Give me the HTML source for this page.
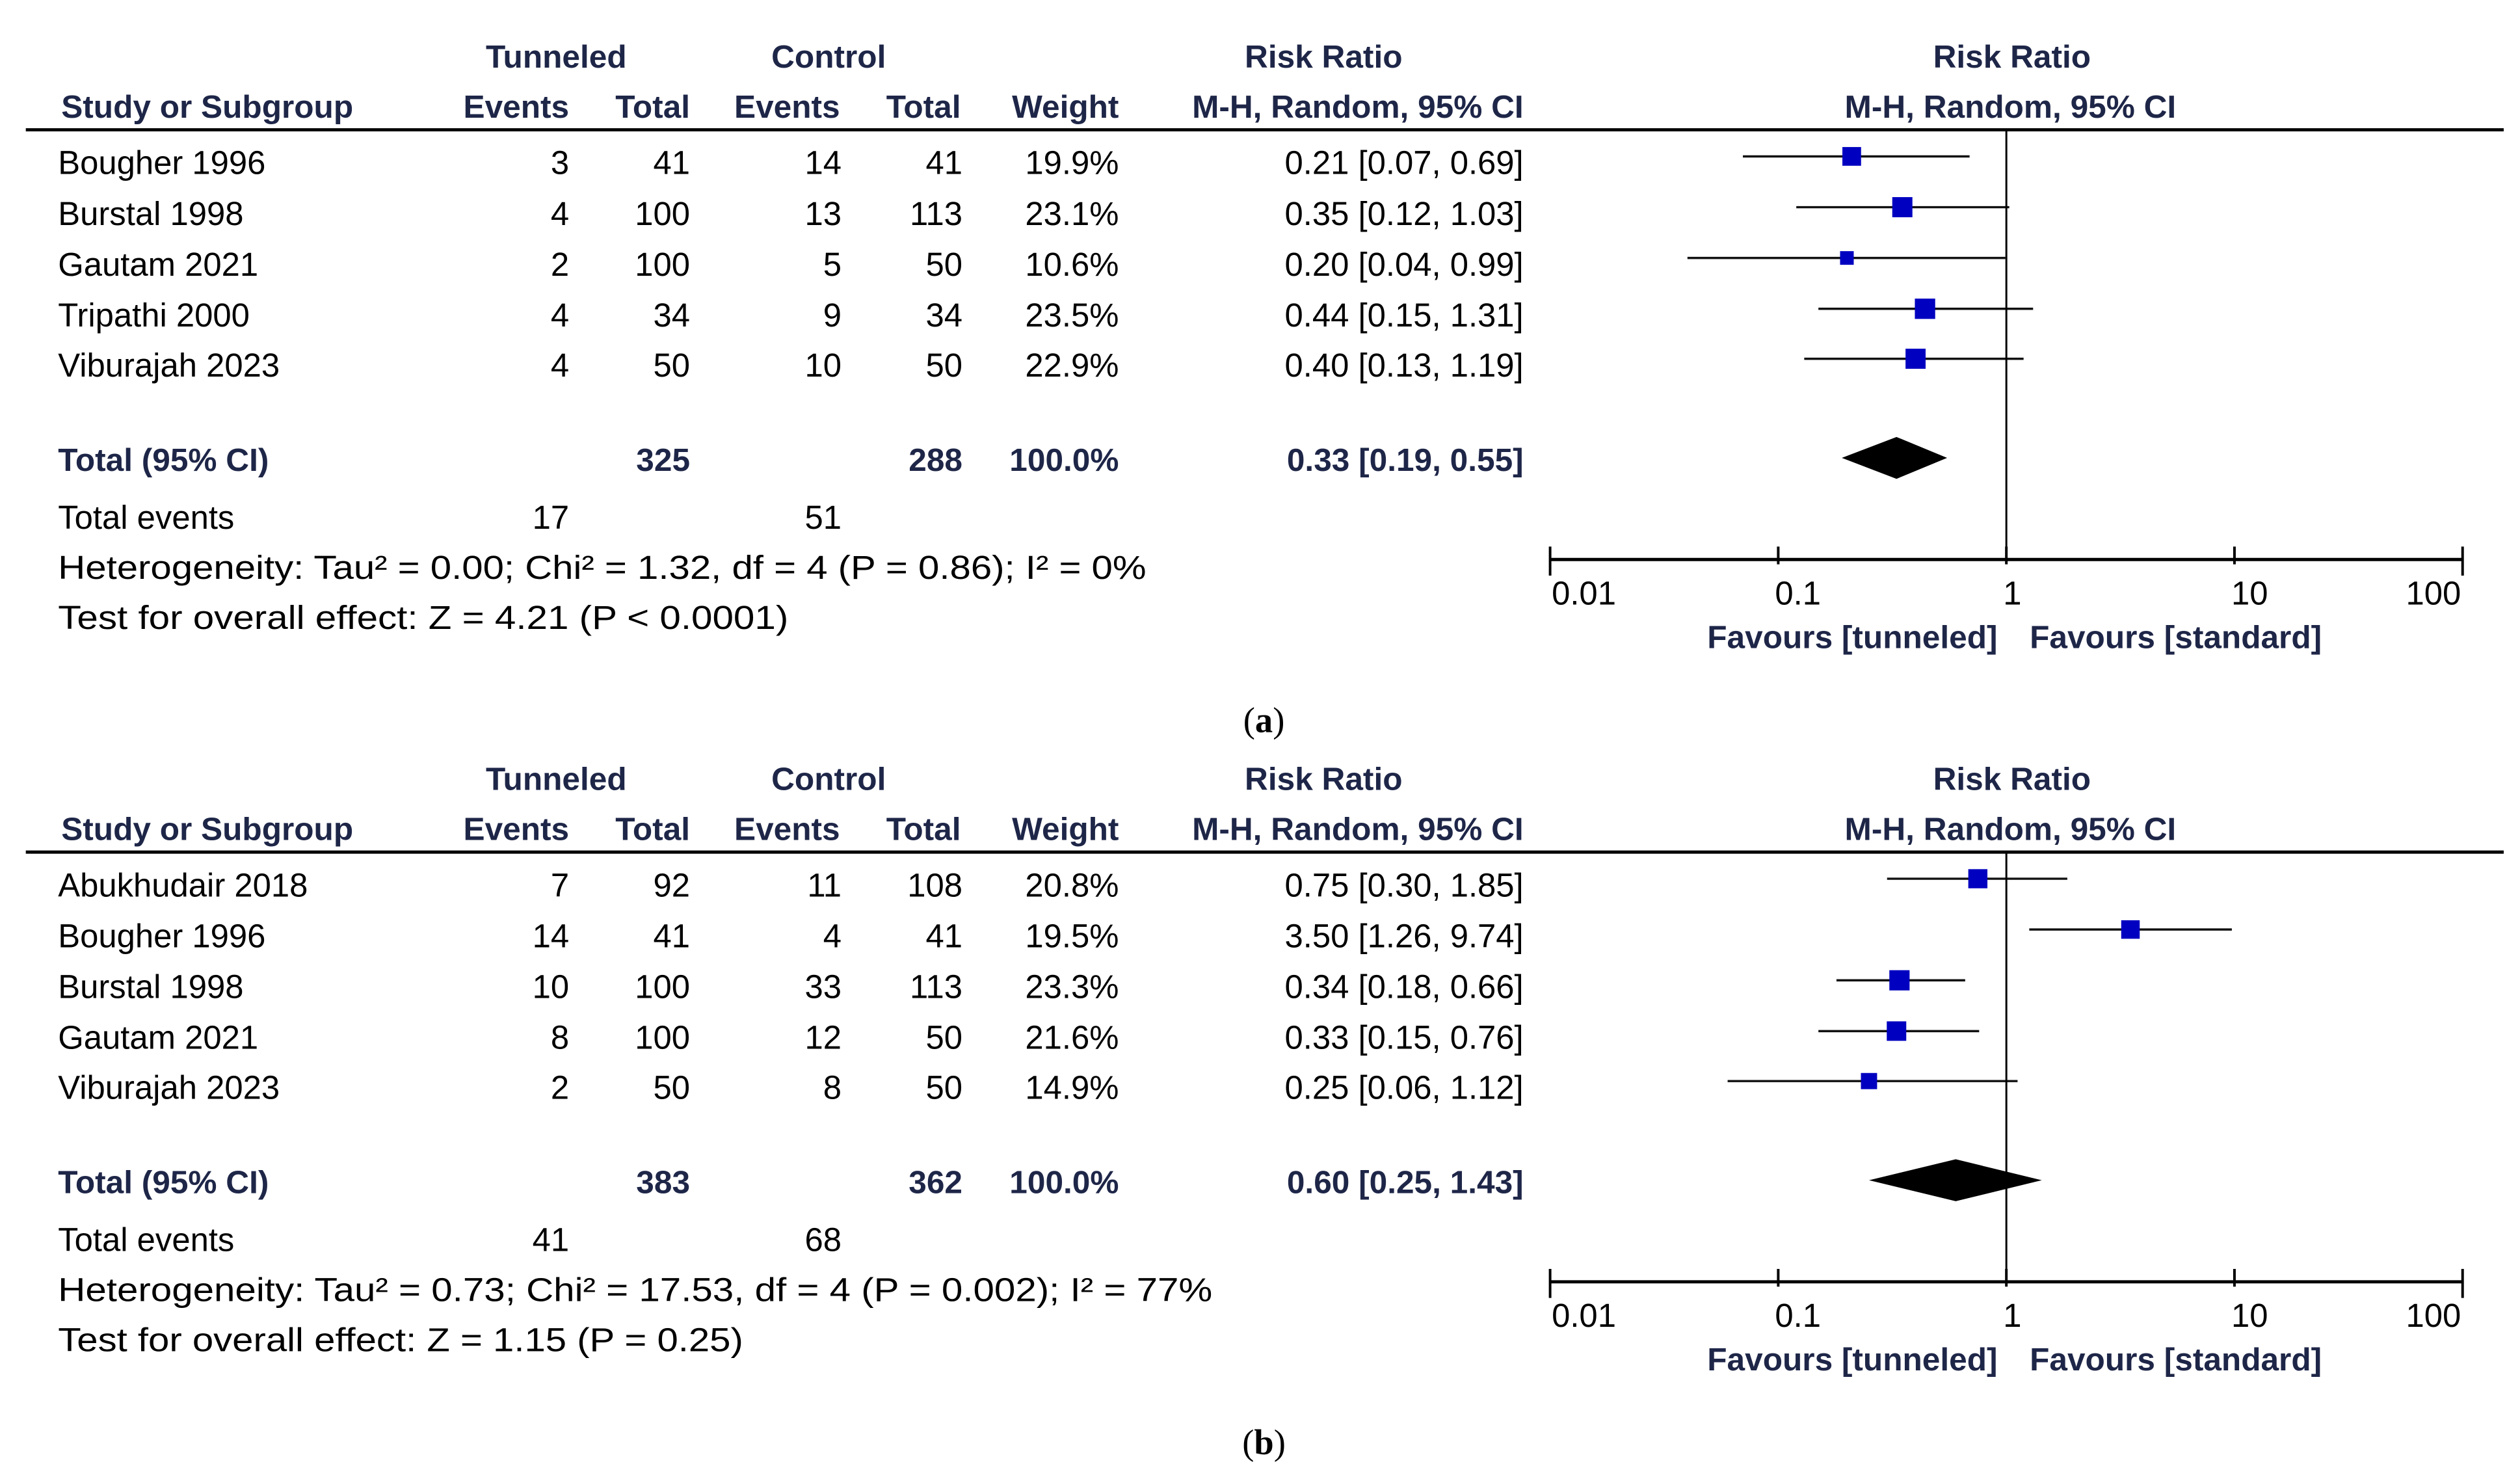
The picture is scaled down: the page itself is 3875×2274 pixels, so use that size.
<!DOCTYPE html>
<html><head><meta charset="utf-8"><style>
html,body{margin:0;padding:0;background:#fff}
svg{display:block}
text{font-family:"Liberation Sans",sans-serif;font-size:20.5px;fill:#000}
.h{font-weight:bold;fill:#1e2648;font-size:20px}
.cap{font-family:"Liberation Serif",serif;font-size:22px}
</style></head><body>
<svg id="fig" width="3875" height="2274" viewBox="0 0 1563.1 917.3" xmlns="http://www.w3.org/2000/svg"></svg>
<script>
// Panel (a) data
const studiesA = ["Bougher 1996","Burstal 1998","Gautam 2021","Tripathi 2000","Viburajah 2023"];
const tEventsA = [3,4,2,4,4];
const tTotalA = [41,100,100,34,50];
const cEventsA = [14,13,5,9,10];
const cTotalA = [41,113,50,34,50];
const weightA = [19.9,23.1,10.6,23.5,22.9];
const rrA = [0.21,0.35,0.20,0.44,0.40];
const loA = [0.07,0.12,0.04,0.15,0.13];
const hiA = [0.69,1.03,0.99,1.31,1.19];
const totalA = {tt:325, ct:288, rr:0.33, lo:0.19, hi:0.55, te:17, ce:51};
const hetA = "Heterogeneity: Tau² = 0.00; Chi² = 1.32, df = 4 (P = 0.86); I² = 0%";
const testA = "Test for overall effect: Z = 4.21 (P < 0.0001)";
// Panel (b) data
const studiesB = ["Abukhudair 2018","Bougher 1996","Burstal 1998","Gautam 2021","Viburajah 2023"];
const tEventsB = [7,14,10,8,2];
const tTotalB = [92,41,100,100,50];
const cEventsB = [11,4,33,12,8];
const cTotalB = [108,41,113,50,50];
const weightB = [20.8,19.5,23.3,21.6,14.9];
const rrB = [0.75,3.50,0.34,0.33,0.25];
const loB = [0.30,1.26,0.18,0.15,0.06];
const hiB = [1.85,9.74,0.66,0.76,1.12];
const totalB = {tt:383, ct:362, rr:0.60, lo:0.25, hi:1.43, te:41, ce:68};
const hetB = "Heterogeneity: Tau² = 0.73; Chi² = 17.53, df = 4 (P = 0.002); I² = 77%";
const testB = "Test for overall effect: Z = 1.15 (P = 0.25)";
const axisTicks = [0.01,0.1,1,10,100];
const tickLabels = ["0.01","0.1","1","10","100"];

const svg = document.getElementById('fig');
const NS = "http://www.w3.org/2000/svg";
function mk(tag, attrs, parent){const e=document.createElementNS(NS,tag);for(const k in attrs)e.setAttribute(k,attrs[k]);(parent||svg).appendChild(e);return e;}
function txt(s,x,y,anchor,cls,parent,tl){const e=mk('text',{x:x,y:y,'text-anchor':anchor||'start'},parent);if(cls)e.setAttribute('class',cls);if(tl){e.setAttribute('textLength',tl);e.setAttribute('lengthAdjust','spacingAndGlyphs');}e.textContent=s;return e;}
const xScale = v => 1244.5 + Math.log10(v)*141.5;
const f2 = v => v.toFixed(2);

function panel(oy, studies, te, tt, ce, ct, w, rr, lo, hi, tot, het, test, label){
  const g = mk('g',{});
  
  
  txt("Tunneled",345,42+oy,'middle','h',g);
  txt("Control",514,42+oy,'middle','h',g);
  txt("Risk Ratio",821,42+oy,'middle','h',g);
  txt("Risk Ratio",1248,42+oy,'middle','h',g);
  txt("Study or Subgroup",38,73+oy,'start','h',g);
  txt("Events",353,73+oy,'end','h',g);
  txt("Total",428,73+oy,'end','h',g);
  txt("Events",521,73+oy,'end','h',g);
  txt("Total",596,73+oy,'end','h',g);
  txt("Weight",694,73+oy,'end','h',g);
  txt("M-H, Random, 95% CI",945,73+oy,'end','h',g);
  txt("M-H, Random, 95% CI",1247,73+oy,'middle','h',g);
  const hl = mk('line',{x1:16,y1:80.5+oy,x2:1553,y2:80.5+oy,stroke:'#000','stroke-width':2},g);
  
  
  const rowY = [100,131.5,163,194.5,225.5];
  for(let i=0;i<studies.length;i++){
    const y = rowY[i]+oy, by = y+8;
    const r = mk('g',{},g);
    
    
    txt(studies[i],36,by,'start',null,r);
    txt(String(te[i]),353,by,'end',null,r);
    txt(String(tt[i]),428,by,'end',null,r);
    txt(String(ce[i]),522,by,'end',null,r);
    txt(String(ct[i]),597,by,'end',null,r);
    txt(w[i].toFixed(1)+"%",694,by,'end',null,r);
    txt(f2(rr[i])+" ["+f2(lo[i])+", "+f2(hi[i])+"]",945,by,'end',null,r);
    const ci = mk('line',{x1:xScale(lo[i]),y1:y-3,x2:xScale(hi[i]),y2:y-3,stroke:'#111','stroke-width':1.4},r);
    
    
    const s = 2.6*Math.sqrt(w[i]);
    const sq = mk('rect',{x:xScale(rr[i])-s/2,y:y-3-s/2,width:s,height:s,fill:'#0000c0'},r);
    
    
  }
  const ty = 284+oy;
  txt("Total (95% CI)",36,ty+8,'start','h',g);
  txt(String(tot.tt),428,ty+8,'end','h',g);
  txt(String(tot.ct),597,ty+8,'end','h',g);
  txt("100.0%",694,ty+8,'end','h',g);
  txt(f2(tot.rr)+" ["+f2(tot.lo)+", "+f2(tot.hi)+"]",945,ty+8,'end','h',g);
  const d = mk('polygon',{points:[xScale(tot.lo)+','+ty, xScale(tot.rr)+','+(ty-13), xScale(tot.hi)+','+ty, xScale(tot.rr)+','+(ty+13)].join(' '),fill:'#000'},g);
  
  
  txt("Total events",36,328+oy,'start',null,g);
  txt(String(tot.te),353,328+oy,'end',null,g);
  txt(String(tot.ce),522,328+oy,'end',null,g);
  txt(het,36,359+oy,'start',null,g,oy?716:675);
  txt(test,36,390+oy,'start',null,g,oy?425:453);
  const ay = 347+oy;
  const vl = mk('line',{x1:xScale(1),y1:81+oy,x2:xScale(1),y2:ay,stroke:'#000','stroke-width':1.2},g);
  
  
  const ax = mk('line',{x1:xScale(0.01),y1:ay,x2:xScale(100),y2:ay,stroke:'#000','stroke-width':2},g);
  
  
  axisTicks.forEach((t,i)=>{
    const end = (i===0||i===axisTicks.length-1);
    const tk = mk('line',{x1:xScale(t),y1:ay-8,x2:xScale(t),y2:ay+(end?10:3),stroke:'#000','stroke-width':1.6},g);
    
    
    const lx = i===0? xScale(t)+1 : (i===axisTicks.length-1? xScale(t)-1 : xScale(t)-2);
    txt(tickLabels[i],lx,ay+28,i===0?'start':(i===axisTicks.length-1?'end':'start'),null,g);
  });
  txt("Favours [tunneled]",1239,ay+55,'end','h',g);
  txt("Favours [standard]",1259,ay+55,'start','h',g);
}
panel(0,studiesA,tEventsA,tTotalA,cEventsA,cTotalA,weightA,rrA,loA,hiA,totalA,hetA,testA,'a');
panel(448,studiesB,tEventsB,tTotalB,cEventsB,cTotalB,weightB,rrB,loB,hiB,totalB,hetB,testB,'b');
const ca = mk('text',{x:784,y:454,'text-anchor':'middle','class':'cap'});
ca.innerHTML='(<tspan font-weight="bold">a</tspan>)';


const cb = mk('text',{x:784,y:902,'text-anchor':'middle','class':'cap'});
cb.innerHTML='(<tspan font-weight="bold">b</tspan>)';


</script>
</body></html>
